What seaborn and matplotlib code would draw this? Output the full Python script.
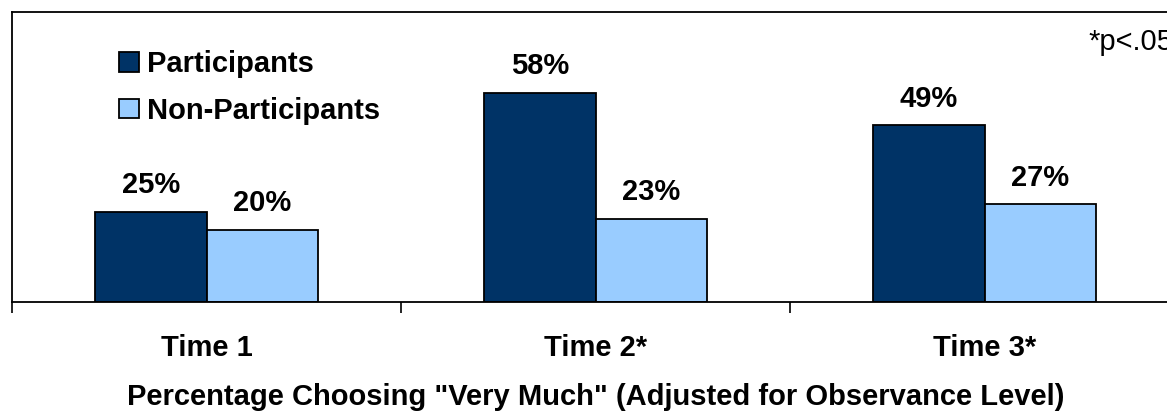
import matplotlib
matplotlib.use("Agg")
import matplotlib.pyplot as plt
from matplotlib.patches import Patch
import seaborn as sns
import pandas as pd

# Survey results by time point
times = ["Time 1", "Time 2*", "Time 3*"]
groups = ["Participants", "Non-Participants"]
participants = [25, 58, 49]
non_participants = [20, 23, 27]
colors = ["#003366", "#99CCFF"]

df = pd.DataFrame({
    "time": times * 2,
    "group": [groups[0]] * 3 + [groups[1]] * 3,
    "pct": participants + non_participants,
})

sns.set_style("white")
plt.rcParams["font.family"] = ["Liberation Sans", "DejaVu Sans"]
plt.rcParams["text.color"] = "black"
plt.rcParams["xtick.color"] = "black"
plt.rcParams["axes.labelcolor"] = "black"
FS = 21

fig = plt.figure(figsize=(11.67, 4.13), dpi=100)
ax = fig.add_axes([12 / 1167, (413 - 302) / 413, 1.0, (302 - 12) / 413])

sns.barplot(data=df, x="time", y="pct", hue="group", palette=colors,
            width=0.572, edgecolor="black", linewidth=1.3, ax=ax,
            legend=False, saturation=1)

ax.set_ylim(0, 80.3)
ax.set_xlim(-0.5, 2.5)
ax.set_yticks([])
ax.set_ylabel("")

# value labels above each bar
for cont in ax.containers:
    ax.bar_label(cont, labels=[f"{v:.0f}%" for v in cont.datavalues],
                 padding=9, fontsize=FS, fontweight="bold", color="black")

# category labels, with tick marks at the category boundaries
ax.set_xticks(range(3))
ax.set_xticklabels(times, fontsize=FS, fontweight="bold")
ax.tick_params(axis="x", which="major", length=0, pad=23)
ax.set_xticks([-0.5, 0.5, 1.5, 2.5], minor=True)
ax.tick_params(axis="x", which="minor", length=8, width=1.2,
               color="black", direction="out", bottom=True)
ax.set_xlabel('Percentage Choosing "Very Much" (Adjusted for Observance Level)',
              fontsize=FS, fontweight="bold", labelpad=15)

for side in ["left", "top", "bottom", "right"]:
    ax.spines[side].set_color("black")
    ax.spines[side].set_linewidth(1.3)

handles = [Patch(facecolor=c, edgecolor="black", linewidth=1.3) for c in colors]
fig.legend(handles, groups, loc="upper left",
           bbox_to_anchor=(119 / 1167, (413 - 50) / 413),
           frameon=False, prop={"size": FS, "weight": "bold"},
           handlelength=0.67, handleheight=0.67, handletextpad=0.3,
           labelspacing=0.64, borderpad=0, borderaxespad=0)

fig.text(1088 / 1167, (413 - 50) / 413, "*p<.05", fontsize=FS,
         ha="left", va="baseline")

fig.savefig("out.png", dpi=100)
